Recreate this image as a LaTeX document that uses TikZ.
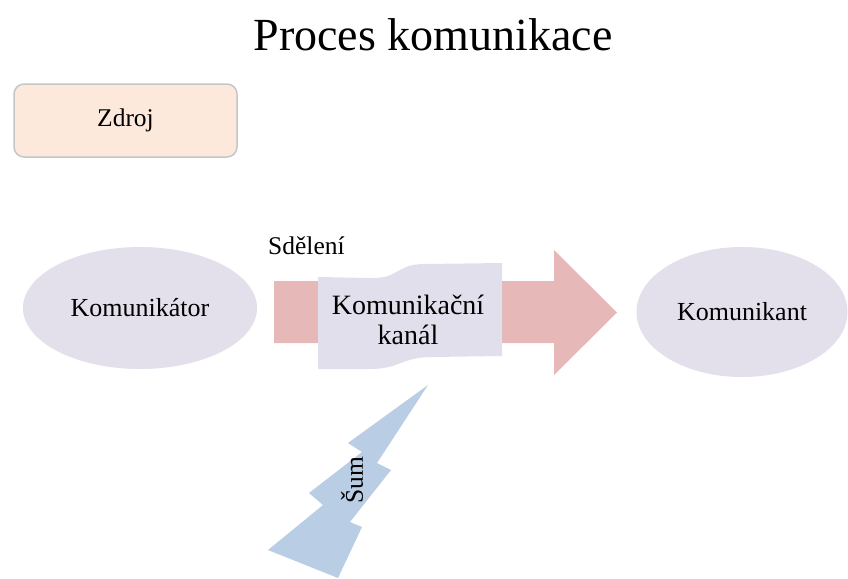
\documentclass[tikz,border=0pt]{standalone}
\usepackage{fontspec}
\setmainfont{Liberation Serif}
\usepackage{tikz}
\usetikzlibrary{shapes, arrows.meta}
\definecolor{zdrojfill}{RGB}{252,233,220}
\definecolor{osobafill}{RGB}{227,223,235}
\definecolor{kanalfill}{RGB}{226,223,236}
\definecolor{sipkafill}{RGB}{230,184,183}
\definecolor{sumfill}{RGB}{185,205,229}
\tikzstyle{nadpis} = [inner sep=0pt, font=\fontsize{46}{52}\selectfont]
\tikzstyle{zdroj} = [rectangle, rounded corners=10pt, draw=gray!45, line width=1.5pt,
    fill=zdrojfill, minimum width=223pt, minimum height=73pt,
    font=\fontsize{25.5}{30}\selectfont]
\tikzstyle{osoba} = [ellipse, fill=osobafill, inner sep=0pt,
    font=\fontsize{26}{30}\selectfont]
\tikzstyle{popis} = [inner sep=0pt, font=\fontsize{25.5}{30}\selectfont]
\tikzstyle{kanal} = [inner sep=0pt, align=center, font=\fontsize{28}{30}\selectfont]

\begin{document}
\begin{tikzpicture}[x=1pt, y=-1pt]
    \useasboundingbox (0,0) rectangle (848,578);
    % Shapes
    \fill [sipkafill] (274,281) -- (554,281) -- (554,250) -- (617,312.5)
        -- (554,375) -- (554,343) -- (274,343) -- cycle;
    \fill [kanalfill] (318,277) -- (370,278) .. controls (400,279) and (395,264) .. (425,264)
        -- (502,263) -- (502,356) -- (432,357) .. controls (402,357) and (400,369) .. (370,369)
        -- (318,369) -- cycle;
    \fill [sumfill] (428,385) -- (348,443) -- (362,452) -- (309,493) -- (323,505)
        -- (268,550) -- (338,578) -- (362,527) -- (350,522) -- (391,470) -- (377,463) -- cycle;
    % Nodes
    \node [nadpis, anchor=base] (nadpis) at (433,51) {Proces komunikace};
    \node [zdroj] (zdroj) at (125.5,120.5) {Zdroj};
    \node [osoba, minimum width=234pt, minimum height=122pt] (komunikator) at (140,308) {Komunikátor};
    \node [osoba, minimum width=211pt, minimum height=130pt] (komunikant) at (742,312) {Komunikant};
    \node [popis, anchor=base west] (sdeleni) at (268,254) {Sdělení};
    \node [kanal] (kanal) at (408,320) {Komunikační\\kanál};
    \node [popis, rotate=90] (sum) at (352,480) {Šum};
\end{tikzpicture}
\end{document}
